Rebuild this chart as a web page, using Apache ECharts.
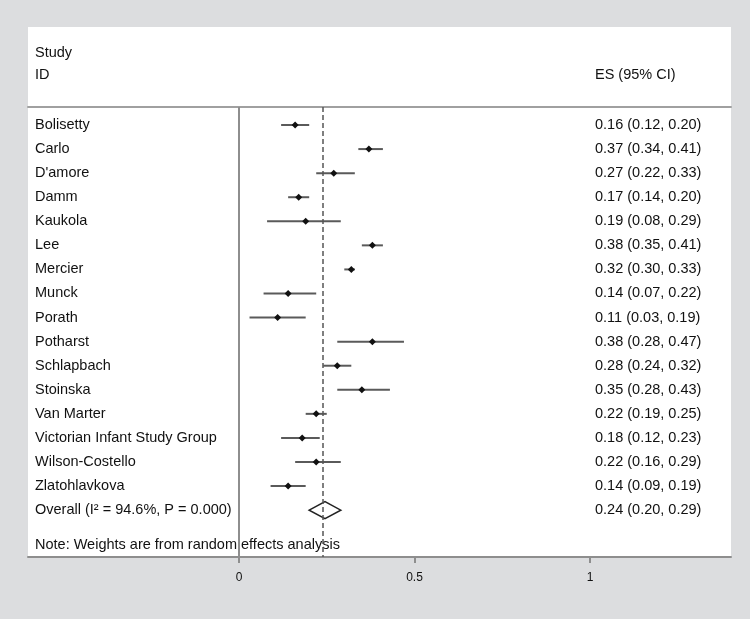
<!DOCTYPE html>
<html><head><meta charset="utf-8">
<script src="https://cdn.jsdelivr.net/npm/echarts@6/dist/echarts.min.js"></script>
<style>html,body{margin:0;padding:0;background:#dcdddf}#c{width:750px;height:619px}</style>
</head><body><div id="c"></div>
<script>
const studies = ['Bolisetty','Carlo',"D'amore",'Damm','Kaukola','Lee','Mercier','Munck','Porath','Potharst','Schlapbach','Stoinska','Van Marter','Victorian Infant Study Group','Wilson-Costello','Zlatohlavkova'];
const es    = [0.16,0.37,0.27,0.17,0.19,0.38,0.32,0.14,0.11,0.38,0.28,0.35,0.22,0.18,0.22,0.14];
const lower = [0.12,0.34,0.22,0.14,0.08,0.35,0.30,0.07,0.03,0.28,0.24,0.28,0.19,0.12,0.16,0.09];
const upper = [0.20,0.41,0.33,0.20,0.29,0.41,0.33,0.22,0.19,0.47,0.32,0.43,0.25,0.23,0.29,0.19];
const esLabels = ['0.16 (0.12, 0.20)','0.37 (0.34, 0.41)','0.27 (0.22, 0.33)','0.17 (0.14, 0.20)','0.19 (0.08, 0.29)','0.38 (0.35, 0.41)','0.32 (0.30, 0.33)','0.14 (0.07, 0.22)','0.11 (0.03, 0.19)','0.38 (0.28, 0.47)','0.28 (0.24, 0.32)','0.35 (0.28, 0.43)','0.22 (0.19, 0.25)','0.18 (0.12, 0.23)','0.22 (0.16, 0.29)','0.14 (0.09, 0.19)'];
const overallLabel = 'Overall (I\u00B2 = 94.6%, P = 0.000)';
const overallES = 0.245, overallLower = 0.20, overallUpper = 0.29;
const overallESLabel = '0.24 (0.20, 0.29)';
const noteText = 'Note: Weights are from random effects analysis';
const xTicks = [0, 0.5, 1];

const FONT = "'Liberation Sans', Arial, sans-serif";
const FS = 14.5;
const names = studies.concat([overallLabel]);
const rightLabels = esLabels.concat([overallESLabel]);
const rowIdx = names.map((_, i) => i);
const yMin = -0.748, yMax = 17.947;
const xMin = -0.6011, xMax = 1.4017;
const GRAY = '#8e8e8e';

const chart = echarts.init(document.getElementById('c'), null, {renderer: 'canvas'});
chart.setOption({
  backgroundColor: '#dcdddf',
  animation: false,
  graphic: [
    {type: 'rect', z: -10, shape: {x: 28, y: 27, width: 703, height: 531}, style: {fill: '#ffffff'}},
    {type: 'text', left: 35, top: 45, style: {text: 'Study', font: FS + 'px ' + FONT, fill: '#111'}},
    {type: 'text', left: 35, top: 67, style: {text: 'ID', font: FS + 'px ' + FONT, fill: '#111'}},
    {type: 'text', left: 595, top: 67, style: {text: 'ES (95% CI)', font: FS + 'px ' + FONT, fill: '#111'}},
    {type: 'text', left: 35, top: 537, z: 1, style: {text: noteText, font: FS + 'px ' + FONT, fill: '#111'}}
  ],
  grid: {left: 28, right: 19, top: 107, bottom: 62, containLabel: false},
  xAxis: [
    {type: 'value', position: 'bottom', min: xMin, max: xMax,
     axisLine: {show: true, onZero: false, lineStyle: {color: GRAY, width: 2}},
     axisTick: {show: true, customValues: xTicks, length: 6, lineStyle: {color: GRAY, width: 2}},
     axisLabel: {customValues: xTicks, margin: 15, color: '#111', fontFamily: FONT, fontSize: 12, formatter: v => String(v)},
     splitLine: {show: false}},
    {type: 'value', position: 'top', min: xMin, max: xMax,
     axisLine: {show: true, onZero: false, lineStyle: {color: '#a0a0a0', width: 2}},
     axisTick: {show: false}, axisLabel: {show: false}, splitLine: {show: false}}
  ],
  yAxis: [
    {type: 'value', position: 'left', inverse: true, min: yMin, max: yMax,
     axisLine: {show: false, onZero: false}, axisTick: {show: false}, splitLine: {show: false},
     axisLabel: {inside: true, align: 'left', margin: 7, customValues: rowIdx, color: '#111', fontFamily: FONT, fontSize: FS,
       formatter: v => names[Math.round(v)]}},
    {type: 'value', position: 'right', inverse: true, min: yMin, max: yMax,
     axisLine: {show: false, onZero: false}, axisTick: {show: false}, splitLine: {show: false},
     axisLabel: {inside: true, align: 'left', margin: 136, customValues: rowIdx, color: '#111', fontFamily: FONT, fontSize: FS,
       formatter: v => rightLabels[Math.round(v)]}}
  ],
  series: [
    {
      type: 'custom', xAxisIndex: 0, yAxisIndex: 0, z: 5,
      data: studies.map((s, i) => [lower[i], upper[i], es[i], i]),
      renderItem: (params, api) => {
        const y = api.value(3);
        const p1 = api.coord([api.value(0), y]);
        const p2 = api.coord([api.value(1), y]);
        const pe = api.coord([api.value(2), y]);
        const h = 3.5;
        return {type: 'group', children: [
          {type: 'line', shape: {x1: p1[0], y1: p1[1], x2: p2[0], y2: p2[1]}, style: {stroke: '#5a5a5a', lineWidth: 2}},
          {type: 'polygon', shape: {points: [[pe[0]-h, pe[1]], [pe[0], pe[1]-h], [pe[0]+h, pe[1]], [pe[0], pe[1]+h]]}, style: {fill: '#111'}}
        ]};
      },
      markLine: {
        silent: true, symbol: 'none', label: {show: false}, z: 10,
        data: [
          {xAxis: 0, lineStyle: {color: GRAY, width: 2, type: 'solid'}},
          {xAxis: overallES, lineStyle: {color: '#555', width: 1.5, type: [5, 3]}}
        ]
      }
    },
    {
      type: 'custom', xAxisIndex: 0, yAxisIndex: 0, z: 6,
      data: [[overallLower, overallUpper, overallES, studies.length]],
      renderItem: (params, api) => {
        const y = api.value(3);
        const pl = api.coord([api.value(0), y]);
        const pu = api.coord([api.value(1), y]);
        const pe = api.coord([api.value(2), y]);
        const h = 8.5;
        return {type: 'polygon', shape: {points: [[pl[0], pl[1]], [pe[0], pe[1]-h], [pu[0], pu[1]], [pe[0], pe[1]+h]]},
          style: {fill: 'none', stroke: '#222', lineWidth: 1.5}};
      }
    }
  ]
});
</script>
</body></html>
